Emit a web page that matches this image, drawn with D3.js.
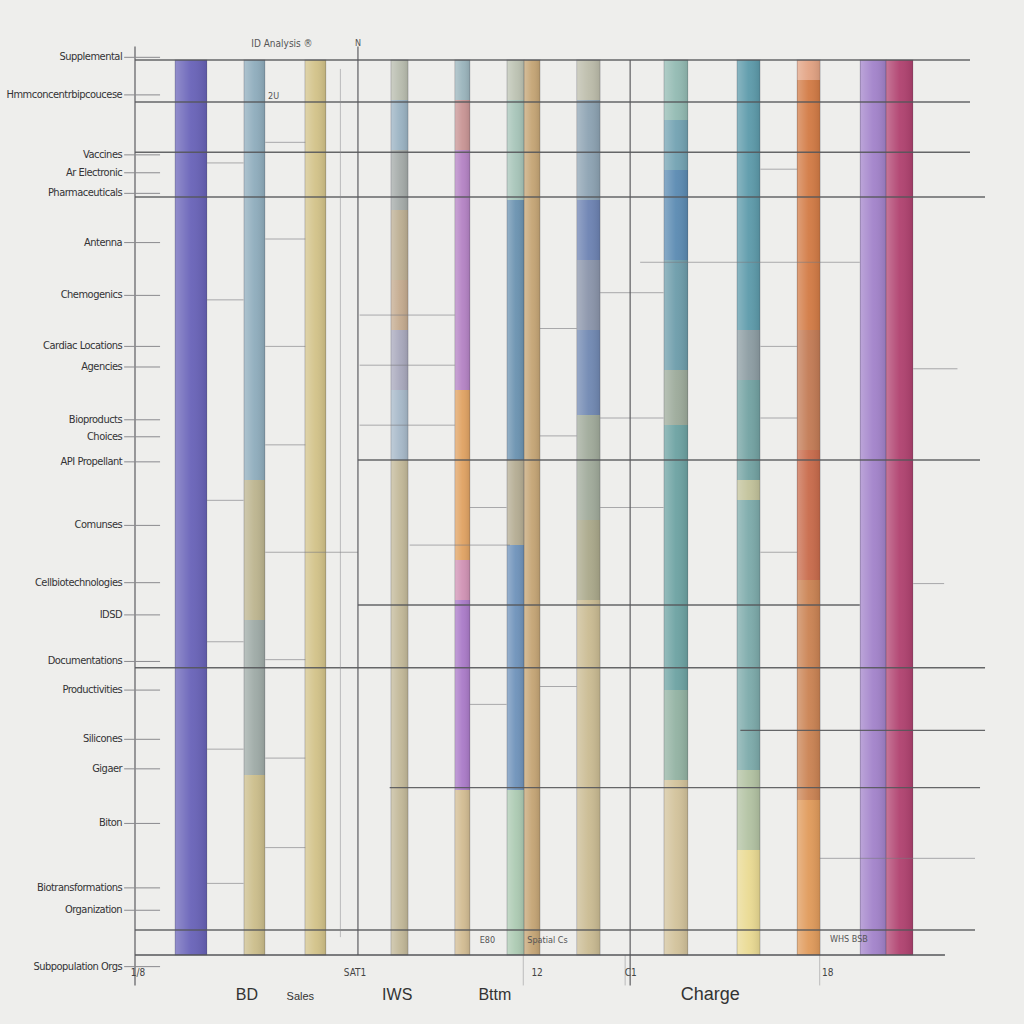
<!DOCTYPE html>
<html><head><meta charset="utf-8">
<script src="https://cdn.jsdelivr.net/npm/d3@7"></script>
<style>html,body{margin:0;padding:0;background:#eeeeec;}svg{display:block;}</style>
</head><body>
<div id="chart"></div>
<script>
// ---------- DATA ----------
const rowLabels = ["Supplemental","Hmmconcentrbipcoucese","Vaccines","Ar    Electronic","Pharmaceuticals","Antenna","Chemogenics","Cardiac Locations","Agencies","Bioproducts","Choices","API  Propellant","Comunses","Cellbiotechnologies","IDSD","Documentations","Productivities","Silicones","Gigaer","Biton","Biotransformations","Organization","Subpopulation Orgs"];
const rowValues = [100.3,96.1,89.4,87.4,85.1,79.6,73.7,68.0,65.7,59.8,57.9,55.1,48.0,41.6,38.0,32.8,29.6,24.1,20.8,14.7,7.5,5.0,-1.3];

const bottomCategories = ["BD","Sales","IWS","Bttm","Charge"];
const bottomCategoryPos = [13.4,19.8,31.4,43.1,68.9];
const bottomTickLabels = ["1/8","SAT1","12","C1","18"];
const bottomTickPos = [0,26.0,47.8,59.0,82.6];

const columnNames = ["c1","c2","c3","c4","c5","c6","c7","c8","c9","c10","c11","c12","c13"];
const columnStart = [4.8,13.05,20.35,30.65,38.3,44.55,46.6,52.9,63.35,72.1,79.3,86.85,89.95];
const columnEnd   = [8.6,15.55,22.85,32.7,40.1,46.6,48.5,55.7,66.2,74.85,82.05,89.95,93.15];
// segments per column: [top value, bottom value, colour]
const columnSegments = [
  [[100,0,"#6862b8"]],
  [[100,53.1,"#8eacbc"],[53.1,37.4,"#bcb48e"],[37.4,20.1,"#9eaaa6"],[20.1,0,"#cbbd8a"]],
  [[100,0,"#d2c288"]],
  [[100,95.5,"#b8bcae"],[95.5,89.9,"#9ab2c2"],[89.9,83.2,"#a4aaa8"],[83.2,75.4,"#bcae92"],[75.4,69.8,"#c4aa8e"],[69.8,63.1,"#a8a8bc"],[63.1,55.3,"#a6b8c8"],[55.3,0,"#c2b898"]],
  [[100,95.5,"#9ab4bc"],[95.5,89.9,"#c89494"],[89.9,63.1,"#b482c4"],[63.1,44.1,"#e0a262"],[44.1,39.7,"#d092b4"],[39.7,18.4,"#aa7ac8"],[18.4,0,"#d2bc92"]],
  [[100,95.5,"#bcc2b2"],[95.5,84.4,"#a6c4b8"],[84.4,55.3,"#6a92b0"],[55.3,45.8,"#b4ac92"],[45.8,18.4,"#6e92ba"],[18.4,0,"#accab2"]],
  [[100,0,"#c4a474"]],
  [[100,95.5,"#bcbcaa"],[95.5,84.4,"#8ca2b2"],[84.4,77.7,"#6c82b2"],[77.7,69.8,"#8a94aa"],[69.8,60.3,"#7088b2"],[60.3,48.6,"#a0aa9a"],[48.6,39.7,"#aaa88a"],[39.7,0,"#cabb92"]],
  [[100,93.3,"#92bab2"],[93.3,87.7,"#72a2b2"],[87.7,77.7,"#5a8ab2"],[77.7,65.4,"#6c9caa"],[65.4,59.2,"#9caa9a"],[59.2,29.6,"#6ca2a2"],[29.6,19.6,"#92b2a2"],[19.6,0,"#d2c29a"]],
  [[100,69.8,"#5c9aaa"],[69.8,64.2,"#8c9ca2"],[64.2,53.1,"#72a2a2"],[53.1,50.8,"#c2c29a"],[50.8,20.7,"#7caaaa"],[20.7,11.7,"#b2c2a2"],[11.7,0,"#eada92"]],
  [[100,97.8,"#e2a282"],[97.8,69.8,"#d27a44"],[69.8,56.4,"#c27a54"],[56.4,41.9,"#c86a4a"],[41.9,17.3,"#ca8252"],[17.3,0,"#e09a5a"]],
  [[100,0,"#a282ca"]],
  [[100,0,"#b0416f"]]
];

// reference lines: [value, from, to, strong]
const refLines = [
  [100,0,100,1],[95.3,0,100,1],[89.7,0,100,1],[84.7,0,101.8,1],[55.3,26.7,101.2,1],
  [39.1,26.7,86.8,1],[32.1,0,101.8,1],[25.1,72.5,101.8,1],[18.7,30.5,101.2,1],[2.8,0,100.6,1],
  [77.4,60.5,86.8,0],[71.5,26.9,38.3,0],[65.9,26.9,38.3,0],[59.2,26.9,38.3,0],[45.8,32.9,44.9,0],[10.8,82.0,100.6,0],
  [88.5,8.6,13.0,0],[73.2,8.6,13.0,0],[50.8,8.6,13.0,0],[35.0,8.6,13.0,0],[23.0,8.6,13.0,0],[8.0,8.6,13.0,0],
  [90.8,15.6,20.4,0],[80.0,15.6,20.4,0],[68.0,15.6,20.4,0],[57.0,15.6,20.4,0],[45.0,15.6,26.7,0],[33.0,15.6,20.4,0],[22.0,15.6,20.4,0],[12.0,15.6,20.4,0],
  [74.0,55.7,63.3,0],[60.0,55.7,63.3,0],[50.0,55.7,63.3,0],
  [87.8,74.9,79.3,0],[68.0,74.9,79.3,0],[60.0,74.9,79.3,0],[45.0,74.9,79.3,0],
  [65.5,93.2,98.5,0],[41.5,93.2,96.9,0],[50.0,40.1,44.5,0],[28,40.1,44.5,0],[70,48.5,52.9,0],[58,48.5,52.9,0],[30,48.5,52.9,0]
];
// vertical guides: [position, top value, bottom value, strong]
const vLines = [[0,101.5,-3.4,1],[26.7,101.5,0,1],[59.3,100,-3.4,1],[46.5,0,-3.4,0],[58.7,0,-3.4,0],[82.0,0,-3.4,0],[24.6,99,2,0]];

// ---------- CHART ----------
const W = 1024, H = 1024;
const svg = d3.select("#chart").append("svg").attr("width", W).attr("height", H);
svg.append("rect").attr("width", W).attr("height", H).attr("fill", "#eeeeec");

const x = d3.scaleLinear().domain([0, 100]).range([135, 970]);
const y = d3.scaleLinear().domain([0, 100]).range([955, 60]);

const defs = svg.append("defs");
const sheen = defs.append("linearGradient").attr("id","sheen").attr("x1","0").attr("x2","1");
sheen.append("stop").attr("offset","0").attr("stop-color","#fff").attr("stop-opacity",0.28);
sheen.append("stop").attr("offset","0.5").attr("stop-color","#fff").attr("stop-opacity",0.05);
sheen.append("stop").attr("offset","1").attr("stop-color","#000").attr("stop-opacity",0.10);

// columns
const cols = svg.append("g");
columnNames.forEach((name, i) => {
  const g = cols.append("g").attr("class", name);
  g.selectAll("rect.seg").data(columnSegments[i]).join("rect")
    .attr("class","seg")
    .attr("shape-rendering","crispEdges")
    .attr("x", x(columnStart[i]))
    .attr("width", x(columnEnd[i]) - x(columnStart[i]))
    .attr("y", d => Math.round(y(d[0])))
    .attr("height", d => Math.round(y(d[1])) - Math.round(y(d[0])))
    .attr("fill", d => d[2]);
  g.append("rect")
    .attr("x", x(columnStart[i])).attr("width", x(columnEnd[i]) - x(columnStart[i]))
    .attr("y", y(100)).attr("height", y(0) - y(100))
    .attr("fill", "url(#sheen)")
    .attr("stroke", "rgba(70,70,80,0.35)").attr("stroke-width", 0.8);
});

// reference lines
svg.append("g").selectAll("line").data(refLines).join("line")
  .attr("x1", d => x(d[1])).attr("x2", d => x(d[2]))
  .attr("y1", d => y(d[0])).attr("y2", d => y(d[0]))
  .attr("stroke", d => d[3] ? "#55565a" : "#7a7a7e")
  .attr("stroke-opacity", d => d[3] ? 0.9 : 0.6)
  .attr("stroke-width", d => d[3] ? 1.4 : 1);

// vertical guides
svg.append("g").selectAll("line").data(vLines).join("line")
  .attr("x1", d => x(d[0])).attr("x2", d => x(d[0]))
  .attr("y1", d => y(d[1])).attr("y2", d => y(d[2]))
  .attr("stroke", d => d[3] ? "#5a5a5e" : "#8a8a8e")
  .attr("stroke-opacity", d => d[3] ? 0.9 : 0.5)
  .attr("stroke-width", d => d[3] ? 1.3 : 1);

// bottom axis
svg.append("line").attr("x1", x(0)).attr("x2", x(97)).attr("y1", y(0)).attr("y2", y(0))
  .attr("stroke", "#55565a").attr("stroke-width", 1.6);

// left ticks + labels
const left = svg.append("g");
left.selectAll("line").data(rowValues).join("line")
  .attr("x1", x(-1.3)).attr("x2", x(3)).attr("y1", d => y(d)).attr("y2", d => y(d))
  .attr("stroke", "#8a8a8e").attr("stroke-width", 1);
left.selectAll("text").data(rowLabels).join("text")
  .attr("x", x(-1.3) - 2).attr("y", (d, i) => y(rowValues[i]))
  .attr("text-anchor", "end").attr("dominant-baseline", "middle")
  .attr("font-family", "'DejaVu Sans Condensed','Liberation Sans Narrow',sans-serif")
  .attr("font-size", 11).attr("fill", "#333335").attr("letter-spacing", -0.5)
  .text(d => d);

// bottom tick labels
svg.append("g").selectAll("text").data(bottomTickLabels).join("text")
  .attr("x", (d, i) => x(bottomTickPos[i]) + 3).attr("y", 976)
  .attr("font-family", "'DejaVu Sans Condensed',sans-serif").attr("font-size", 10)
  .attr("fill", "#444").attr("text-anchor", "middle").text(d => d);

// bottom categories
svg.append("g").selectAll("text").data(bottomCategories).join("text")
  .attr("x", (d, i) => x(bottomCategoryPos[i])).attr("y", 1000)
  .attr("font-family", "'Liberation Sans',Arial,sans-serif")
  .attr("font-size", (d, i) => i === 1 ? 11 : (i === 4 ? 18 : 16))
  .attr("fill", "#333").attr("text-anchor", "middle").text(d => d);

// small annotations
const notes = [["ID Analysis ®",17.6,101.4,10],["2U",16.6,95.6,9],["N",26.7,101.6,9],["E80",42.2,1.3,9],["Spatial Cs",49.4,1.3,9],["WHS  BSB",85.5,1.4,9]];
svg.append("g").selectAll("text").data(notes).join("text")
  .attr("x", d => x(d[1])).attr("y", d => y(d[2]))
  .attr("font-family","'DejaVu Sans Condensed',sans-serif").attr("font-size", d => d[3])
  .attr("fill","#555").attr("text-anchor","middle").text(d => d[0]);
</script>
</body></html>
